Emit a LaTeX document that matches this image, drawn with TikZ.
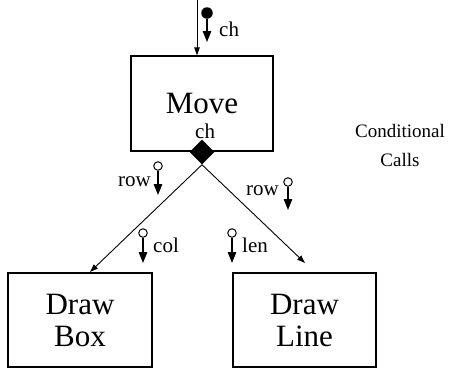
\documentclass[tikz,border=0pt]{standalone}
\usepackage{fontspec}
\setmainfont{Liberation Serif}
\usetikzlibrary{shapes.geometric,arrows.meta}
\begin{document}
\begin{tikzpicture}[x=1pt,y=-1pt,
  box/.style={draw,line width=1.2pt,minimum width=142pt,minimum height=95pt,inner sep=0pt,align=center,font=\fontsize{31}{32}\selectfont},
  lbl/.style={inner sep=0pt,font=\fontsize{21}{24}\selectfont},
  note/.style={inner sep=0pt,font=\fontsize{19}{22}\selectfont},
  conn/.style={line width=0.9pt,-{Triangle[length=8pt,width=5.5pt]}},
  flow/.style={line width=1.2pt,-{Triangle[length=11pt,width=8.5pt]}},
  hollow/.style={circle,draw,line width=1pt,fill=white,inner sep=0pt,minimum size=8.5pt},
  filleddot/.style={circle,fill=black,inner sep=0pt,minimum size=11.5pt}]
\useasboundingbox (0,0) rectangle (449,368);
% boxes
\node[box] (move) at (202,103.5) {Move};
\node[box,minimum width=144pt,minimum height=94pt] (drawbox) at (80,320) {Draw\\Box};
\node[box,minimum width=143pt,minimum height=94pt] (drawline) at (304.5,320) {Draw\\Line};
\node[diamond,fill=black,inner sep=0pt,minimum width=25pt,minimum height=25pt] (dia) at (202,152) {};
% incoming call
\coordinate (in) at (197,0);
\draw[conn] (in) -- (move.north -| in);
\node[filleddot] (dot) at (207,13) {};
\coordinate (dottip) at (207,42);
\draw[flow] (dot.south) -- (dottip);
\node[lbl,anchor=base west] (chtop) at (219,36) {ch};
\node[lbl,anchor=base west] (chbox) at (195,138) {ch};
% calls
\coordinate (ltip) at (90,272);
\coordinate (rtip) at (305,263);
\draw[conn] (dia.south) -- (ltip);
\draw[conn] (dia.south) -- (rtip);
% couples
\node[hollow] (c1) at (158,166) {};
\coordinate (t1) at (158,195);
\draw[flow] (c1.south) -- (t1);
\node[lbl,anchor=base east] (row1) at (151,186) {row};
\node[hollow] (c2) at (288,182) {};
\coordinate (t2) at (288,210);
\draw[flow] (c2.south) -- (t2);
\node[lbl,anchor=base east] (row2) at (279,195) {row};
\node[hollow] (c3) at (143,233) {};
\coordinate (t3) at (143,263);
\draw[flow] (c3.south) -- (t3);
\node[lbl,anchor=base west] (col) at (153,252) {col};
\node[hollow] (c4) at (232,233) {};
\coordinate (t4) at (232,263);
\draw[flow] (c4.south) -- (t4);
\node[lbl,anchor=base west] (len) at (242,252) {len};
% note
\node[note,anchor=base] (cond) at (400,137) {Conditional};
\node[note,anchor=base] (calls) at (400,166) {Calls};
\end{tikzpicture}
\end{document}
